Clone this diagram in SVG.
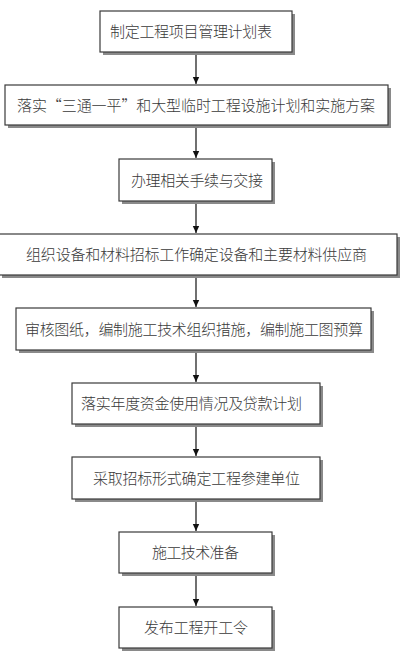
<svg xmlns="http://www.w3.org/2000/svg" width="405" height="654" viewBox="0 0 405 654">
<defs>
<style>
.box{fill:#fff;stroke:#3a3a3a;stroke-width:1.2}
.sh{fill:#8a8a8a}
.t{font-family:"Noto Sans CJK SC","Noto Sans CJK JP",sans-serif;font-size:15px;font-weight:300;fill:#3a3a3a;text-anchor:start}
.c{stroke:#111;stroke-width:1.2;fill:none}
</style>
<marker id="ah" markerWidth="8" markerHeight="8" refX="7" refY="4" orient="auto" markerUnits="userSpaceOnUse">
<path d="M0,0.8 L7,4 L0,7.2 z" fill="#111"/>
</marker>
</defs>
<rect width="405" height="654" fill="#fff"/>
<g id="connectors">
<line class="c" x1="196" y1="52" x2="196" y2="84" marker-end="url(#ah)"/>
<line class="c" x1="196" y1="125" x2="196" y2="158" marker-end="url(#ah)"/>
<line class="c" x1="196" y1="201" x2="196" y2="233" marker-end="url(#ah)"/>
<line class="c" x1="196" y1="275" x2="196" y2="307" marker-end="url(#ah)"/>
<line class="c" x1="196" y1="350" x2="196" y2="382" marker-end="url(#ah)"/>
<line class="c" x1="196" y1="424" x2="196" y2="456" marker-end="url(#ah)"/>
<line class="c" x1="196" y1="499" x2="196" y2="531" marker-end="url(#ah)"/>
<line class="c" x1="196" y1="573" x2="196" y2="606" marker-end="url(#ah)"/>
</g>
<g id="n1">
<rect class="sh" x="103" y="14" width="192" height="41"/>
<rect class="box" x="100" y="11" width="192" height="41"/>
<text class="t" x="110" y="37" textLength="162">制定工程项目管理计划表</text>
</g>
<g id="n2">
<rect class="sh" x="8" y="88" width="383" height="40"/>
<rect class="box" x="5" y="85" width="383" height="40"/>
<text class="t" x="17" y="110.5" textLength="358">落实“三通一平”和大型临时工程设施计划和实施方案</text>
</g>
<g id="n3">
<rect class="sh" x="122" y="162" width="153" height="42"/>
<rect class="box" x="119" y="159" width="153" height="42"/>
<text class="t" x="131" y="185.5" textLength="132">办理相关手续与交接</text>
</g>
<g id="n4">
<rect class="sh" x="2" y="237" width="398" height="41"/>
<rect class="box" x="-1" y="234" width="398" height="41"/>
<text class="t" x="26" y="260" textLength="341">组织设备和材料招标工作确定设备和主要材料供应商</text>
</g>
<g id="n5">
<rect class="sh" x="19" y="311" width="355" height="42"/>
<rect class="box" x="16" y="308" width="355" height="42"/>
<text class="t" x="25" y="334.5" textLength="338">审核图纸，编制施工技术组织措施，编制施工图预算</text>
</g>
<g id="n6">
<rect class="sh" x="75" y="386" width="248" height="41"/>
<rect class="box" x="72" y="383" width="248" height="41"/>
<text class="t" x="81" y="409" textLength="221">落实年度资金使用情况及贷款计划</text>
</g>
<g id="n7">
<rect class="sh" x="75" y="460" width="248" height="42"/>
<rect class="box" x="72" y="457" width="248" height="42"/>
<text class="t" x="93" y="483.5" textLength="207">采取招标形式确定工程参建单位</text>
</g>
<g id="n8">
<rect class="sh" x="122" y="535" width="153" height="41"/>
<rect class="box" x="119" y="532" width="153" height="41"/>
<text class="t" x="152" y="558" textLength="87">施工技术准备</text>
</g>
<g id="n9">
<rect class="sh" x="122" y="610" width="153" height="41"/>
<rect class="box" x="119" y="607" width="153" height="41"/>
<text class="t" x="144" y="633" textLength="104">发布工程开工令</text>
</g>
</svg>
